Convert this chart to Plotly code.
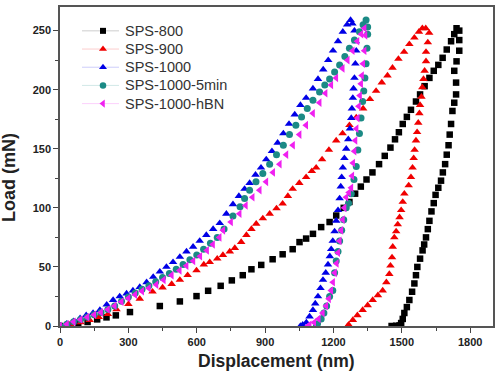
import plotly.graph_objects as go

# ---------------- data (displacement nm, load mN) ----------------
sps800_x = [0, 40, 80, 121, 163, 204, 245, 307, 438, 526, 599, 650, 705, 754, 802, 840, 883, 933, 977, 1021,
            1051, 1080, 1110, 1146, 1183, 1212, 1245, 1270, 1295, 1320, 1345, 1371, 1400, 1425, 1450, 1470, 1487,
            1504, 1522, 1540, 1562, 1580, 1600, 1621, 1640, 1660, 1679, 1697, 1716, 1730, 1740,
            1752, 1752, 1752, 1740, 1730, 1738, 1738, 1730, 1722, 1716, 1710, 1705, 1697, 1690, 1680, 1672, 1660,
            1648, 1640, 1630, 1621, 1614, 1606, 1598, 1591, 1580, 1568, 1562, 1555, 1545, 1533, 1522, 1511, 1504,
            1497, 1490, 1475, 1455]
sps800_y = [0, 0.8, 1.8, 3.4, 5.6, 7.3, 9, 11.8, 16.9, 20.8, 25.3, 29.8, 34, 38.6, 43, 48, 51.7, 56.5, 60.7, 65,
            71, 74, 78, 83.7, 88, 93.5, 100, 105, 112, 118, 124, 130, 137, 144, 151, 158, 164,
            171, 177, 183, 190, 196, 203, 210, 216, 221, 227, 234, 241, 247, 252,
            250, 242, 233, 224, 216, 206, 196, 189, 182, 171, 162, 153, 145, 137, 130, 123, 117,
            111, 104, 97, 89, 82, 75, 69, 64, 57, 50, 43, 36, 29, 22, 16, 11, 6,
            2.5, 0.5, 0.2, 0]

sps900_x = [0, 45, 90, 130, 170, 210, 248, 300, 350, 406, 450, 490, 526, 560, 599, 631, 657, 690, 715, 745, 767,
            795, 818, 840, 861, 890, 920, 950, 977, 1000, 1021, 1050, 1080, 1105, 1124, 1150, 1180, 1212, 1240, 1270,
            1300, 1330, 1360, 1387, 1412, 1437, 1459, 1485, 1510, 1533, 1555, 1575, 1590,
            1605, 1620, 1614, 1606, 1606, 1600, 1595, 1590, 1586, 1580, 1577, 1572, 1567, 1562, 1556, 1552, 1547,
            1540, 1530, 1511, 1504, 1497, 1490, 1482, 1475, 1467, 1460, 1457, 1450, 1445, 1432, 1416, 1395, 1372,
            1350, 1328, 1305, 1285, 1267, 1262]
sps900_y = [0, 1.5, 3, 5, 7.5, 10, 14, 18.5, 23, 29, 32.5, 35.5, 39, 43, 47, 52, 54, 57, 60, 63, 66,
            71, 77, 82, 86.5, 91, 95, 99.5, 103.5, 110, 116, 121, 126, 131, 134, 141, 149, 157, 163, 170,
            176.5, 184, 192, 199, 206, 212, 218.5, 226, 232, 238.5, 244, 249, 252,
            252, 248, 240, 232, 224, 216, 209, 202, 194, 187, 180, 172, 164, 157, 149, 142, 134,
            126, 119, 112, 105, 98, 92, 86, 80, 75, 67, 58, 51, 44, 37, 30, 26, 22,
            17.5, 13.5, 9, 5, 1, 0]

sps1000_x = [0, 30, 60, 88, 115, 145, 175, 205, 233, 262, 292, 320, 350, 380, 409, 438, 467, 496, 526, 555, 584,
             613, 642, 672, 701, 730, 759, 785, 810, 832, 858, 882, 905, 930, 955, 980, 1005, 1030, 1055, 1080,
             1110, 1132, 1155, 1177, 1198, 1220, 1241, 1260, 1275,
             1283, 1292, 1298, 1300, 1296, 1292, 1288, 1285, 1281, 1278, 1272, 1265, 1256, 1248, 1241, 1236, 1232,
             1227, 1220, 1212, 1205, 1197, 1190, 1184, 1176, 1166, 1154, 1143, 1132, 1120, 1110, 1095, 1081, 1065,
             1055]
sps1000_y = [0, 2, 4, 6.5, 9, 11, 13.5, 18, 22, 25, 27.5, 30, 33, 37, 41.5, 46, 50, 54, 58.5, 63, 67,
             72, 77, 82, 87, 95, 103, 110, 116, 121, 128, 134, 141, 148, 155, 163, 171, 179, 187, 193,
             201, 209, 217, 225, 233, 241, 249, 255, 259,
             256, 250, 241, 233, 222, 210, 201, 193, 184, 176, 167, 158, 150, 142, 134, 126, 118,
             108, 98, 89, 80, 72, 65, 59, 52, 45, 39, 32, 25, 19, 13.5, 8, 3, 1,
             0]

sps1000_5min_x = [0, 30, 60, 90, 120, 150, 180, 210, 240, 270, 300, 330, 360, 390, 420, 450, 480, 510, 540, 570,
                  600, 630, 660, 690, 720, 759, 790, 810, 832, 860, 890, 920, 950, 980, 1007, 1035, 1060, 1085,
                  1110, 1139, 1162, 1183, 1205, 1227, 1250, 1270, 1292, 1314, 1330, 1343,
                  1350, 1350, 1347, 1343, 1338, 1333, 1328, 1321, 1314, 1307, 1300, 1290, 1278, 1266, 1256, 1245,
                  1236, 1227, 1220, 1212, 1205, 1197, 1183, 1170, 1158, 1146, 1130, 1125]
sps1000_5min_y = [0, 1.5, 3.5, 5.5, 7.5, 9.5, 11.5, 14, 17, 21, 24.5, 28, 31, 34, 37.5, 41, 44.5, 48, 52, 56,
                  60, 65, 70, 75, 82, 93, 101, 108, 115, 122, 129, 137, 145, 153, 162, 170, 177, 184,
                  191, 198, 204, 209, 215, 221, 228, 235, 242, 249, 255, 259,
                  253, 247, 235, 222, 210, 199, 190, 176, 163, 149, 135, 124, 112, 104, 100, 90,
                  81, 72, 63, 55, 45, 30, 25, 17, 11, 6, 2, 0]

sps1000_hbn_x = [0, 30, 60, 90, 120, 150, 180, 210, 240, 270, 300, 330, 360, 390, 423, 455, 490, 525, 555, 585,
                 615, 645, 671, 700, 716, 750, 788, 815, 845, 876, 905, 935, 964, 993, 1022, 1051, 1080, 1110,
                 1139, 1165, 1190, 1212, 1240, 1262, 1284, 1305, 1322, 1336,
                 1340, 1336, 1330, 1325, 1321, 1316, 1311, 1306, 1301, 1296, 1292, 1286, 1282, 1278, 1268, 1256,
                 1248, 1241, 1234, 1227, 1220, 1214, 1206, 1198, 1190, 1180, 1168, 1153, 1135, 1115, 1095, 1088]
sps1000_hbn_y = [0, 1.5, 3.5, 5.5, 7.5, 9.5, 11.5, 14, 17, 20.5, 23.5, 26.5, 29.5, 32, 35, 39, 43, 47, 51, 55,
                 59, 64, 69, 75, 81, 88, 95, 102, 109, 115, 122, 130, 137, 145, 153, 162, 170, 180,
                 189, 197, 204, 210, 218, 225, 233, 241, 247, 252,
                 246, 233, 222, 212, 205, 195, 186, 176, 167, 157, 148, 138, 127, 117, 113, 109,
                 100, 90, 81, 72, 62, 53, 45, 37, 30, 23, 17, 11, 6, 3, 1, 0]

series_names = ["SPS-800", "SPS-900", "SPS-1000", "SPS-1000-5min", "SPS-1000-hBN"]
series_x = [sps800_x, sps900_x, sps1000_x, sps1000_5min_x, sps1000_hbn_x]
series_y = [sps800_y, sps900_y, sps1000_y, sps1000_5min_y, sps1000_hbn_y]

x_ticks = [0, 300, 600, 900, 1200, 1500, 1800]
y_ticks = [0, 50, 100, 150, 200, 250]

# ---------------- styles ----------------
colors = ["#000000", "#f00000", "#0000e6", "#1b8a85", "#f020f0"]
faint = ["rgba(0,0,0,0.2)", "rgba(240,0,0,0.2)", "rgba(0,0,230,0.2)", "rgba(27,138,133,0.2)", "rgba(240,32,240,0.2)"]
symbols = ["square", "triangle-up", "triangle-up", "circle", "triangle-left"]
sizes = [6.5, 7.5, 7.5, 7, 7.5]
FONT = "Liberation Sans, Arial, sans-serif"

# plot area in page pixels
L, R, T, B = 60, 493, 5, 326
W, H = 500, 376

fig = go.Figure()
for name, xs, ys, c, s, sz in zip(series_names, series_x, series_y, colors, symbols, sizes):
    fig.add_trace(go.Scatter(x=xs, y=ys, mode="markers", name=name, showlegend=False,
                             marker=dict(symbol=s, size=sz, color=c, line=dict(width=0))))

# custom legend (overlay pixel axes)
leg_rows = [29, 47.3, 65.6, 83.9, 102.2]
leg_marker_x, leg_line_x0, leg_line_x1, leg_text_x = 103, 82, 119, 123
shapes = []
annotations = []
for name, c, f, s, sz, ry in zip(series_names, colors, faint, symbols, sizes, leg_rows):
    shapes.append(dict(type="line", xref="x2", yref="y2", x0=leg_line_x0, x1=leg_line_x1, y0=ry, y1=ry,
                       line=dict(color=f, width=1), layer="below"))
    fig.add_trace(go.Scatter(x=[leg_marker_x], y=[ry], xaxis="x2", yaxis="y2", mode="markers",
                             showlegend=False, hoverinfo="skip",
                             marker=dict(symbol=s, size=sz - 0.5, color=c, line=dict(width=0))))
    annotations.append(dict(text=name, xref="x2", yref="y2", x=leg_text_x, y=ry, xanchor="left",
                            yanchor="middle", showarrow=False,
                            font=dict(family=FONT, size=14.5, color="#333333")))

annotations += [
    dict(text="<b>Displacement (nm)</b>", xref="paper", yref="paper", x=0.5, y=0, yshift=-(361 - B),
         showarrow=False, yanchor="middle", xanchor="center",
         font=dict(family=FONT, size=17.5, color="#222222")),
    dict(text="<b>Load (mN)</b>", xref="paper", yref="paper", x=0, xshift=-(L - 9),
         y=(B - 177) / (B - T), showarrow=False, textangle=-90, xanchor="center", yanchor="middle",
         font=dict(family=FONT, size=18, color="#222222")),
]

axis_common = dict(
    showline=True, linecolor="#555555", linewidth=1.5, mirror=True,
    ticks="outside", ticklen=5, tickwidth=1.2, tickcolor="#444444",
    showgrid=False, zeroline=False,
    tickfont=dict(family=FONT, size=11, color="#222222", weight="bold"),
)

fig.update_layout(
    width=W, height=H,
    margin=dict(l=L, r=W - R, t=T, b=H - B),
    paper_bgcolor="white", plot_bgcolor="white",
    showlegend=False,
    xaxis=dict(range=[0, 1900], tickvals=x_ticks, ticktext=[str(v) for v in x_ticks],
               minor=dict(ticks="outside", ticklen=3, tickcolor="#444444", dtick=150, tick0=0),
               **axis_common),
    yaxis=dict(range=[0, 270], tickvals=y_ticks, ticktext=[str(v) for v in y_ticks],
               minor=dict(ticks="outside", ticklen=3, tickcolor="#444444", dtick=25, tick0=0),
               **axis_common),
    xaxis2=dict(overlaying="x", range=[L, R], visible=False, fixedrange=True),
    yaxis2=dict(overlaying="y", range=[B, T], visible=False, fixedrange=True),
    shapes=shapes,
    annotations=annotations,
)

fig.write_html("out.html", config={"displayModeBar": False},
               post_script="document.body.style.margin='0px';document.body.style.padding='0px';")
